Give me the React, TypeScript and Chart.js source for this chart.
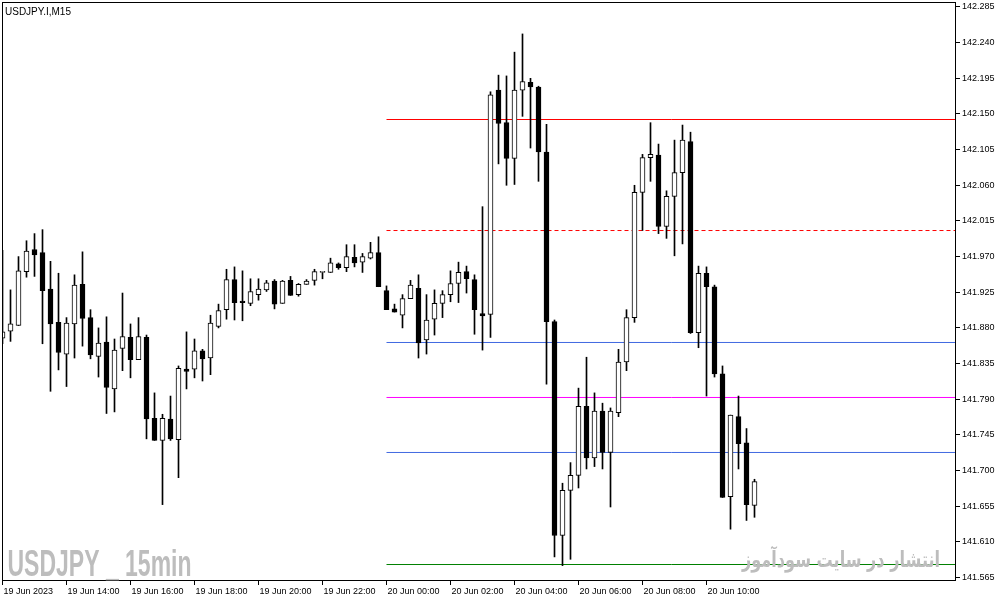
import React, { useEffect, useRef } from "react";
import { Chart, registerables, ChartConfiguration, Plugin } from "chart.js";

Chart.register(...registerables);

const symbolTitle = "USDJPY.I,M15";
const watermarkLeft = "USDJPY _ 15min";
const watermarkRight = "انتشار در سایت سودآموز";

// one candle per 15-minute slot, 19 Jun 12:00 .. 20 Jun 11:30
const opens = [
  141.867, 141.876, 141.883, 141.951, 141.979, 141.975, 141.929, 141.887, 141.847, 141.885,
  141.935, 141.893, 141.844, 141.862, 141.803, 141.854, 141.868, 141.840, 141.868, 141.766,
  141.738, 141.765, 141.739, 141.828, 141.828, 141.851, 141.842, 141.882, 141.903, 141.941,
  141.914, 141.911, 141.922, 141.928, 141.939, 141.911, 141.940, 141.922, 141.935, 141.940,
  141.950, 141.950, 141.961, 141.956, 141.969, 141.963, 141.968, 141.975, 141.927, 141.904,
  141.896, 141.917, 141.930, 141.865, 141.891, 141.911, 141.922, 141.936, 141.951, 141.941,
  141.898, 141.897, 142.180, 142.139, 142.094, 142.180, 142.190, 142.184, 142.102, 141.888,
  141.618, 141.675, 141.694, 141.781, 141.716, 141.775, 141.723, 141.773, 141.837, 141.893,
  142.051, 142.095, 142.098, 142.008, 142.046, 142.076, 142.115, 141.874, 141.949, 141.932,
  141.822, 141.667, 141.768, 141.735, 141.656,
];
const highs = [
  141.978, 141.928, 141.970, 141.990, 141.999, 142.004, 141.964, 141.949, 141.893, 141.947,
  141.976, 141.903, 141.880, 141.894, 141.866, 141.924, 141.885, 141.893, 141.871, 141.798,
  141.771, 141.794, 141.832, 141.875, 141.866, 141.853, 141.896, 141.910, 141.954, 141.957,
  141.952, 141.942, 141.942, 141.940, 141.941, 141.940, 141.945, 141.936, 141.941, 141.954,
  141.951, 141.968, 141.962, 141.985, 141.985, 141.974, 141.988, 141.995, 141.933, 141.910,
  141.922, 141.940, 141.947, 141.922, 141.928, 141.927, 141.952, 141.963, 141.958, 141.947,
  142.033, 142.178, 142.199, 142.198, 142.228, 142.251, 142.195, 142.185, 142.137, 141.890,
  141.684, 141.710, 141.804, 141.843, 141.798, 141.785, 141.779, 141.853, 141.903, 142.060,
  142.099, 142.139, 142.112, 142.053, 142.117, 142.136, 142.127, 141.958, 141.957, 141.934,
  141.832, 141.770, 141.794, 141.753, 141.689,
];
const lows = [
  141.860, 141.863, 141.883, 141.944, 141.945, 141.860, 141.800, 141.827, 141.806, 141.842,
  141.857, 141.841, 141.818, 141.772, 141.774, 141.826, 141.817, 141.840, 141.740, 141.738,
  141.657, 141.738, 141.691, 141.803, 141.817, 141.813, 141.821, 141.880, 141.891, 141.890,
  141.889, 141.908, 141.915, 141.926, 141.904, 141.911, 141.921, 141.920, 141.935, 141.934,
  141.942, 141.950, 141.954, 141.951, 141.957, 141.950, 141.967, 141.932, 141.903, 141.900,
  141.880, 141.917, 141.842, 141.847, 141.871, 141.893, 141.913, 141.912, 141.924, 141.872,
  141.852, 141.868, 142.087, 142.060, 142.061, 142.147, 142.107, 142.065, 141.809, 141.591,
  141.580, 141.588, 141.678, 141.702, 141.705, 141.702, 141.654, 141.768, 141.826, 141.887,
  142.003, 142.065, 141.999, 141.993, 141.971, 141.986, 141.873, 141.855, 141.794, 141.818,
  141.666, 141.626, 141.702, 141.637, 141.641,
];
const closes = [
  141.875, 141.885, 141.952, 141.977, 141.972, 141.927, 141.885, 141.849, 141.886, 141.934,
  141.892, 141.846, 141.861, 141.805, 141.852, 141.869, 141.840, 141.869, 141.765, 141.738,
  141.766, 141.740, 141.829, 141.825, 141.851, 141.841, 141.886, 141.902, 141.941, 141.912,
  141.912, 141.926, 141.929, 141.937, 141.910, 141.939, 141.921, 141.935, 141.939, 141.951,
  141.951, 141.962, 141.956, 141.970, 141.962, 141.970, 141.975, 141.932, 141.903, 141.900,
  141.917, 141.934, 141.861, 141.890, 141.911, 141.922, 141.936, 141.950, 141.942, 141.903,
  141.895, 142.174, 142.138, 142.094, 142.180, 142.191, 142.184, 142.102, 141.888, 141.618,
  141.675, 141.694, 141.781, 141.716, 141.775, 141.723, 141.775, 141.837, 141.893, 142.051,
  142.095, 142.099, 142.008, 142.046, 142.076, 142.117, 141.874, 141.949, 141.932, 141.822,
  141.666, 141.770, 141.734, 141.657, 141.686,
];

const xTickSlots = [0, 8, 16, 24, 32, 40, 48, 56, 64, 72, 80, 88];
const xTickLabels = [
  "19 Jun 2023", "19 Jun 14:00", "19 Jun 16:00", "19 Jun 18:00", "19 Jun 20:00", "19 Jun 22:00",
  "20 Jun 00:00", "20 Jun 02:00", "20 Jun 04:00", "20 Jun 06:00", "20 Jun 08:00", "20 Jun 10:00",
];
const yTickValues = [
  141.565, 141.61, 141.655, 141.7, 141.745, 141.79, 141.835, 141.88, 141.925,
  141.97, 142.015, 142.06, 142.105, 142.15, 142.195, 142.24, 142.285,
];

// horizontal levels drawn from the 20 Jun 00:00 candle to the right edge
const levelPrices = [142.143, 142.0029, 141.8616, 141.7922, 141.7228, 141.5814];
const levelColors = ["#ff0000", "#ff0000", "#4169e1", "#ff00ff", "#4169e1", "#008000"];
const levelDashed = [false, true, false, false, false, false];
const levelStartSlot = 48;
const lastSlot = 121;

const axisFont = { family: "'Liberation Sans', Arial, sans-serif", size: 9 };

const overlayPlugin: Plugin<"bar"> = {
  id: "mtOverlay",
  afterDraw(chart) {
    const { ctx, chartArea } = chart;
    ctx.save();
    ctx.strokeStyle = "#000";
    ctx.lineWidth = 1;
    ctx.strokeRect(
      chartArea.left + 0.5,
      chartArea.top + 0.5,
      chartArea.right - chartArea.left - 1,
      chartArea.bottom - chartArea.top - 1
    );

    ctx.fillStyle = "#000";
    ctx.font = "10px 'Liberation Sans', Arial, sans-serif";
    ctx.textAlign = "left";
    ctx.textBaseline = "alphabetic";
    ctx.fillText(symbolTitle, 5, 14.5);

    // left watermark, narrow and tall
    ctx.fillStyle = "#bdbdbd";
    ctx.font = "bold 37px 'Liberation Sans', Arial, sans-serif";
    const w = ctx.measureText(watermarkLeft).width;
    ctx.save();
    ctx.translate(7.5, 575.5);
    ctx.scale(184 / w, 1);
    ctx.fillText(watermarkLeft, 0, 0);
    ctx.restore();

    // right watermark (Persian)
    ctx.font = "bold 22px 'DejaVu Sans', sans-serif";
    ctx.direction = "rtl";
    ctx.textAlign = "right";
    ctx.fillText(watermarkRight, 940, 567, 198);
    ctx.restore();
  },
};

const App: React.FC = () => {
  const canvasRef = useRef<HTMLCanvasElement | null>(null);
  const chartRef = useRef<Chart<"bar"> | null>(null);

  useEffect(() => {
    const canvas = canvasRef.current;
    if (!canvas) return;
    const ctx = canvas.getContext("2d");
    if (!ctx) return;

    if (chartRef.current) {
      chartRef.current.destroy();
    }

    const slots = opens.map((_, i) => i);

    const levelSets = levelPrices.map((price, k) => ({
      type: "line" as const,
      data: [
        { x: levelStartSlot, y: price },
        { x: lastSlot, y: price },
      ],
      borderColor: levelColors[k],
      borderWidth: 1,
      borderDash: levelDashed[k] ? [4, 3] : [],
      pointRadius: 0,
      order: 3,
    }));

    const config: ChartConfiguration<"bar"> = {
      type: "bar",
      data: {
        datasets: [
          {
            label: "wick",
            data: slots.map((i) => ({ x: i, y: [lows[i], highs[i]] })) as any,
            backgroundColor: "#000",
            borderWidth: 0,
            barThickness: 1,
            grouped: false,
            order: 2,
          },
          {
            label: "body",
            data: slots.map((i) => ({ x: i, y: [opens[i], closes[i]] })) as any,
            backgroundColor: slots.map((i) => (closes[i] >= opens[i] ? "#ffffff" : "#000000")),
            borderColor: "#000",
            borderWidth: 1,
            borderSkipped: false,
            barThickness: 5,
            minBarLength: 1,
            grouped: false,
            order: 1,
          },
          ...(levelSets as any[]),
        ],
      },
      options: {
        responsive: false,
        animation: false,
        events: [],
        layout: { padding: { top: 2, left: 2, right: 0, bottom: 0 } },
        plugins: {
          legend: { display: false },
          tooltip: { enabled: false },
        },
        scales: {
          x: {
            type: "linear",
            offset: false,
            min: -0.0625,
            max: 119.1875,
            border: { display: false },
            grid: {
              display: true,
              offset: false,
              drawOnChartArea: false,
              drawTicks: true,
              tickLength: 4,
              color: "#000",
            },
            afterBuildTicks: (axis) => {
              axis.ticks = xTickSlots.map((v) => ({ value: v }));
            },
            afterFit: (axis) => {
              axis.height = 21;
              axis.paddingLeft = 0;
              axis.paddingRight = 0;
            },
            ticks: {
              autoSkip: false,
              maxRotation: 0,
              align: "start",
              labelOffset: 1,
              padding: 1,
              color: "#000",
              font: axisFont,
              callback: (_v, idx) => xTickLabels[idx],
            },
          },
          y: {
            type: "linear",
            position: "right",
            min: 141.5606,
            max: 142.2913,
            border: { display: false },
            grid: {
              display: true,
              drawOnChartArea: false,
              drawTicks: true,
              tickLength: 4,
              color: "#000",
            },
            afterBuildTicks: (axis) => {
              axis.ticks = yTickValues.map((v) => ({ value: v }));
            },
            afterFit: (axis) => {
              axis.width = 45;
              axis.paddingTop = 0;
              axis.paddingBottom = 0;
            },
            ticks: {
              autoSkip: false,
              padding: 2,
              color: "#000",
              font: axisFont,
              callback: (v) => Number(v).toFixed(3),
            },
          },
        },
      },
      plugins: [overlayPlugin],
    };

    chartRef.current = new Chart(ctx, config);

    return () => {
      if (chartRef.current) {
        chartRef.current.destroy();
        chartRef.current = null;
      }
    };
  }, []);

  return (
    <div
      style={{
        position: "absolute",
        left: 0,
        top: 0,
        width: 1001,
        height: 602,
        background: "#ffffff",
      }}
    >
      <canvas ref={canvasRef} width={1001} height={602} style={{ display: "block" }} />
    </div>
  );
};

export default App;
